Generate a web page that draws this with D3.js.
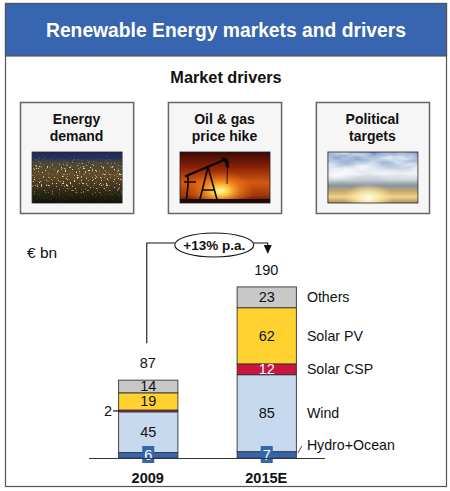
<!DOCTYPE html>
<html><head><meta charset="utf-8">
<script src="https://cdn.jsdelivr.net/npm/d3@7/dist/d3.min.js"></script>
<style>html,body{margin:0;padding:0;background:#fff;}svg{display:block;font-family:"Liberation Sans",Arial,sans-serif;}</style>
</head><body>
<script>
const categories = ["2009", "2015E"];
const seriesNames = ["Hydro+Ocean", "Wind", "Solar CSP", "Solar PV", "Others"];
const hydro = [6, 7];
const wind = [45, 85];
const solarCSP = [2, 12];
const solarPV = [19, 62];
const others = [14, 23];
const totals = [87, 190];
const growthLabel = "+13% p.a.";
const drivers = [["Energy", "demand"], ["Oil & gas", "price hike"], ["Political", "targets"]];

const colors = {"Hydro+Ocean": "#3565AC", "Wind": "#C6D9EE", "Solar CSP": "#C8163F", "Solar PV": "#FFD22F", "Others": "#C8C8C8"};
const W = 450, H = 491;
const svg = d3.select("body").append("svg").attr("width", W).attr("height", H);

// frame
svg.append("rect").attr("x", 5.5).attr("y", 3.5).attr("width", 441).attr("height", 483).attr("fill", "#fff").attr("stroke", "#555").attr("stroke-width", 1.2);
svg.append("rect").attr("x", 5.5).attr("y", 3.5).attr("width", 441).attr("height", 52.5).attr("fill", "#3765AF").attr("stroke", "#555").attr("stroke-width", 1.2);
svg.append("text").attr("x", 226).attr("y", 37).attr("text-anchor", "middle").attr("fill", "#fff").attr("font-weight", "bold").attr("font-size", 19.3).text("Renewable Energy markets and drivers");
svg.append("text").attr("x", 226).attr("y", 83).attr("text-anchor", "middle").attr("fill", "#111").attr("font-weight", "bold").attr("font-size", 16.3).text("Market drivers");

// gradients / filters for photos
const defs = svg.append("defs");
function lin(id, stops) {
  const g = defs.append("linearGradient").attr("id", id).attr("x1", 0).attr("y1", 0).attr("x2", 0).attr("y2", 1);
  stops.forEach(s => g.append("stop").attr("offset", s[0]).attr("stop-color", s[1]).attr("stop-opacity", s[2] === undefined ? 1 : s[2]));
}
function rad(id, cx, cy, r, stops) {
  const g = defs.append("radialGradient").attr("id", id).attr("cx", cx).attr("cy", cy).attr("r", r);
  stops.forEach(s => g.append("stop").attr("offset", s[0]).attr("stop-color", s[1]).attr("stop-opacity", s[2]));
}
lin("city", [[0, "#1a2a5a"], [0.12, "#24305a"], [0.2, "#4a4538"], [0.45, "#5e4c2a"], [0.65, "#463820"], [0.82, "#262414"], [1, "#101208"]]);
lin("cityMask", [[0, "#fff", 0], [0.18, "#fff", 0.2], [0.3, "#fff", 0.9], [0.65, "#fff", 0.9], [0.85, "#fff", 0.15], [1, "#fff", 0]]);
lin("oil", [[0, "#3a0804"], [0.3, "#8a2208"], [0.6, "#d05a10"], [0.85, "#a0380a"], [1, "#3a0a04"]]);
rad("sun", 0.45, 0.76, 0.38, [[0, "#fffac0", 1], [0.25, "#ffd040", 0.95], [0.6, "#ff9020", 0.5], [1, "#ff7010", 0]]);
lin("sky", [[0, "#6088bc"], [0.22, "#a6bcd6"], [0.42, "#e4e9f0"], [0.55, "#c4cad2"], [0.66, "#8a929c"], [0.78, "#c8ac6c"], [0.88, "#efd68c"], [1, "#a88c58"]]);
lin("cloudMask", [[0, "#fff", 0.7], [0.45, "#fff", 0.9], [0.6, "#fff", 0], [1, "#fff", 0]]);
rad("sun2", 0.45, 0.9, 0.28, [[0, "#fffdf0", 1], [0.45, "#fff0b0", 0.75], [1, "#ffe090", 0]]);

const fl = defs.append("filter").attr("id", "lights").attr("x", 0).attr("y", 0).attr("width", 1).attr("height", 1);
fl.append("feTurbulence").attr("type", "fractalNoise").attr("baseFrequency", 0.55).attr("numOctaves", 2).attr("seed", 4).attr("result", "n");
fl.append("feColorMatrix").attr("in", "n").attr("type", "matrix").attr("values", "0 0 0 0 0.95  0 0 0 0 0.78  0 0 0 0 0.38  10 0 0 0 -6.2").attr("result", "c");
fl.append("feComposite").attr("in", "c").attr("in2", "SourceGraphic").attr("operator", "in");

const fc = defs.append("filter").attr("id", "clouds").attr("x", 0).attr("y", 0).attr("width", 1).attr("height", 1);
fc.append("feTurbulence").attr("type", "fractalNoise").attr("baseFrequency", "0.03 0.09").attr("numOctaves", 3).attr("seed", 7).attr("result", "n");
fc.append("feColorMatrix").attr("in", "n").attr("type", "matrix").attr("values", "0 0 0 0 0.96  0 0 0 0 0.97  0 0 0 0 1  2.6 0 0 0 -0.9").attr("result", "c");
fc.append("feComposite").attr("in", "c").attr("in2", "SourceGraphic").attr("operator", "in");

const boxX = d3.scaleBand().domain(drivers.map((d, i) => i)).range([20, 429]).paddingInner(0.235);
const boxes = svg.selectAll("g.drv").data(drivers).join("g").attr("class", "drv").attr("transform", (d, i) => `translate(${boxX(i)},102)`);
boxes.append("rect").attr("x", 0.5).attr("y", 0.5).attr("width", boxX.bandwidth()).attr("height", 111).attr("fill", "#F6F6F6").attr("stroke", "#666").attr("stroke-width", 1.5);
boxes.append("text").attr("x", boxX.bandwidth() / 2).attr("y", 22).attr("text-anchor", "middle").attr("font-weight", "bold").attr("font-size", 14).attr("fill", "#111").text(d => d[0]);
boxes.append("text").attr("x", boxX.bandwidth() / 2).attr("y", 39).attr("text-anchor", "middle").attr("font-weight", "bold").attr("font-size", 14).attr("fill", "#111").text(d => d[1]);
const pw = 90, ph = 51;
boxes.each(function (d, i) {
  const g = d3.select(this).append("g").attr("transform", `translate(${(boxX.bandwidth() - pw) / 2 + 0.5},50)`);
  if (i === 0) {
    g.append("rect").attr("width", pw).attr("height", ph).attr("fill", "url(#city)");
    g.append("rect").attr("width", pw).attr("height", ph).attr("fill", "url(#cityMask)").attr("filter", "url(#lights)");
  } else if (i === 1) {
    g.append("rect").attr("width", pw).attr("height", ph).attr("fill", "url(#oil)");
    g.append("rect").attr("width", pw).attr("height", ph).attr("fill", "url(#sun)");
    const k = "#0c0402";
    g.append("path").attr("fill", "none").attr("stroke", k).attr("stroke-width", 2.2).attr("stroke-linecap", "round")
      .attr("d", "M6,24 L44,8");
    g.append("path").attr("fill", k).attr("d", "M42,5 Q48,5 49,11 L49,16 L46,15 L45,10 Q44,8 41,9 Z");
    g.append("path").attr("fill", "none").attr("stroke", k).attr("stroke-width", 1.6)
      .attr("d", "M28,15 L19,51 M28,15 L38,51 M22,38 L35,38 M8,23 L8,34 M4,30 L16,30 M8,34 L6,51");
    g.append("path").attr("fill", "none").attr("stroke", k).attr("stroke-width", 0.8).attr("d", "M47.5,15 L47,32");
    g.append("rect").attr("x", 0).attr("y", ph - 4).attr("width", pw).attr("height", 4).attr("fill", "#200604");
  } else {
    g.append("rect").attr("width", pw).attr("height", ph).attr("fill", "url(#sky)");
    g.append("rect").attr("width", pw).attr("height", ph).attr("fill", "url(#cloudMask)").attr("filter", "url(#clouds)");
    g.append("rect").attr("width", pw).attr("height", ph).attr("fill", "url(#sun2)");
  }
  g.append("rect").attr("width", pw).attr("height", ph).attr("fill", "none").attr("stroke", "#222").attr("stroke-width", 0.8);
});

// chart
const x = d3.scaleBand().domain(categories).range([88.5, 325.5]).paddingInner(0.5).paddingOuter(0.25);
const y = d3.scaleLinear().domain([0, 190]).range([458, 286]);
const rows = categories.map((c, i) => ({cat: c, "Hydro+Ocean": hydro[i], "Wind": wind[i], "Solar CSP": solarCSP[i], "Solar PV": solarPV[i], "Others": others[i]}));
const stacked = d3.stack().keys(seriesNames)(rows);

svg.append("text").attr("x", 27).attr("y", 258).attr("font-size", 15.5).attr("fill", "#111").text("€ bn");

const layers = svg.selectAll("g.layer").data(stacked).join("g").attr("class", "layer").attr("fill", d => colors[d.key]);
layers.selectAll("rect").data(d => d).join("rect")
  .attr("x", d => x(d.data.cat) + 0.5).attr("width", x.bandwidth())
  .attr("y", d => y(d[1])).attr("height", d => y(d[0]) - y(d[1]))
  .attr("stroke", "#333").attr("stroke-width", 0.9);

// segment labels
stacked.forEach(layer => {
  layer.forEach((d, i) => {
    const v = d[1] - d[0];
    const cx = x(d.data.cat) + x.bandwidth() / 2 + 0.5;
    const cy = (y(d[0]) + y(d[1])) / 2;
    if (layer.key === "Hydro+Ocean") {
      svg.append("rect").attr("x", cx - 6).attr("y", 446).attr("width", 12).attr("height", 17).attr("fill", "#3565AC");
      svg.append("text").attr("x", cx).attr("y", 460).attr("text-anchor", "middle").attr("font-size", 14.5).attr("fill", "#fff").text(v);
    } else if (layer.key === "Solar CSP" && v < 5) {
      const bx = x(d.data.cat);
      svg.append("line").attr("x1", bx - 5).attr("x2", bx + 1).attr("y1", cy).attr("y2", cy).attr("stroke", "#111").attr("stroke-width", 1.2);
      svg.append("text").attr("x", bx - 6).attr("y", cy + 5).attr("text-anchor", "end").attr("font-size", 14.5).attr("fill", "#111").text(v);
    } else {
      svg.append("text").attr("x", cx).attr("y", cy + 5).attr("text-anchor", "middle").attr("font-size", 14.5)
        .attr("fill", layer.key === "Solar CSP" ? "#fff" : "#111").text(v);
    }
  });
});

// baseline
svg.append("line").attr("x1", 89).attr("x2", 325).attr("y1", y(0) + 0.5).attr("y2", y(0) + 0.5).attr("stroke", "#333").attr("stroke-width", 1);

// totals and categories
categories.forEach((c, i) => {
  svg.append("text").attr("x", x(c) + x.bandwidth() / 2).attr("y", y(totals[i]) - 11).attr("text-anchor", "middle").attr("font-size", 14.5).attr("fill", "#111").text(totals[i]);
  svg.append("text").attr("x", x(c) + x.bandwidth() / 2).attr("y", 483).attr("text-anchor", "middle").attr("font-size", 14.5).attr("font-weight", "bold").attr("fill", "#111").text(c);
});

// legend labels next to last bar
const last = categories.length - 1;
const lx = x(categories[last]) + x.bandwidth() + 11;
stacked.forEach(layer => {
  const d = layer[last];
  let cy = (y(d[0]) + y(d[1])) / 2;
  if (layer.key === "Hydro+Ocean") {
    cy = y(d[1]) - 7;
    svg.append("line").attr("x1", lx - 9).attr("y1", y(d[0]) - 5).attr("x2", lx - 5).attr("y2", y(d[0]) - 12).attr("stroke", "#333").attr("stroke-width", 0.9);
  }
  svg.append("text").attr("x", lx).attr("y", cy + 5).attr("font-size", 14.2).attr("fill", "#111").text(layer.key);
});

// growth arrow
const x0 = x(categories[0]) + x.bandwidth() / 2 - 1;
const x1 = x(categories[last]) + x.bandwidth() / 2 + 1.5;
const topY = 243;
const ex = (x0 + x1) / 2 + 7, ey = 245;
svg.append("path").attr("fill", "none").attr("stroke", "#111").attr("stroke-width", 1.1)
  .attr("d", `M${x0},${y(totals[0]) - 36} V${topY} H${x1} V${y(totals[last]) - 40}`);
svg.append("path").attr("fill", "#111").attr("d", `M${x1 - 4},${y(totals[last]) - 41} L${x1 + 4},${y(totals[last]) - 41} L${x1},${y(totals[last]) - 32} Z`);
svg.append("ellipse").attr("cx", ex).attr("cy", ey).attr("rx", 39.5).attr("ry", 12).attr("fill", "#fff").attr("stroke", "#111").attr("stroke-width", 1.1);
svg.append("text").attr("x", ex).attr("y", ey + 5).attr("text-anchor", "middle").attr("font-size", 13.5).attr("font-weight", "bold").attr("fill", "#111").text(growthLabel);
</script>
</body></html>
